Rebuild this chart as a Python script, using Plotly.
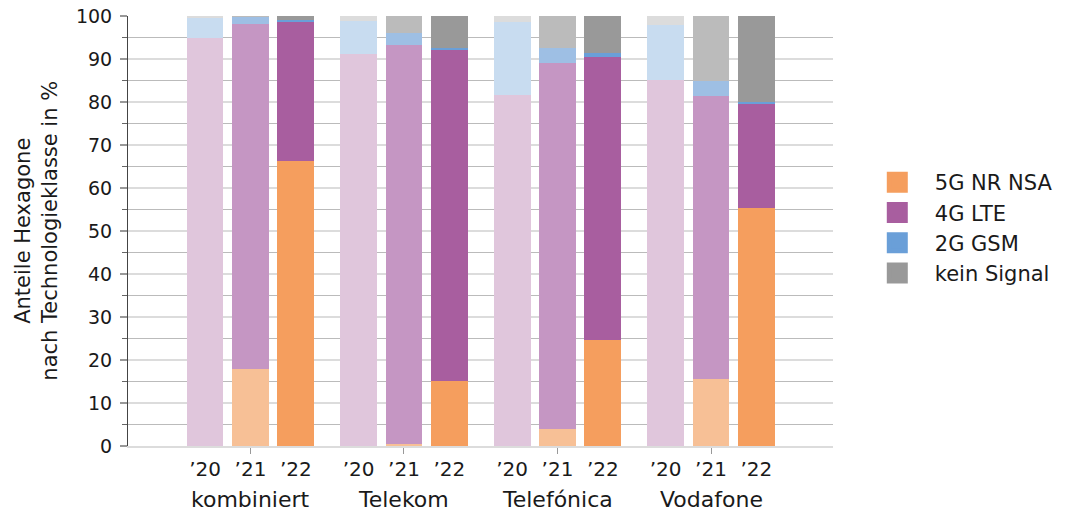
import plotly.graph_objects as go

groups = ["kombiniert", "Telekom", "Telefónica", "Vodafone"]
years = ["’20", "’21", "’22"]
series = ["5G NR NSA", "4G LTE", "2G GSM", "kein Signal"]

# values per group: ['20, '21, '22]
g5 = [[0, 17.9, 66.3], [0, 0.5, 15.2], [0, 4.0, 24.7], [0, 15.5, 55.3]]
g4 = [[94.8, 80.2, 32.4], [91.2, 92.8, 77.0], [81.7, 85.0, 65.7], [85.1, 65.9, 24.3]]
g2 = [[4.9, 1.8, 0.4], [7.6, 2.7, 0.4], [16.8, 3.6, 0.9], [12.7, 3.6, 0.4]]
none = [[0.3, 0.1, 0.9], [1.2, 4.0, 7.4], [1.5, 7.4, 8.7], [2.2, 15.0, 20.0]]
values = [g5, g4, g2, none]

# colours per series: ['20, '21, '22]
colors = [
    ["#FAD9C0", "#F7C096", "#F59E5E"],
    ["#E0C6DC", "#C596C3", "#A85E9F"],
    ["#C8DCF0", "#9EBFE4", "#6A9FD8"],
    ["#DCDCDC", "#BBBBBB", "#999999"],
]

GROUP_STEP = 3.385
BAR_W = 0.81
FONT = "DejaVu Sans"

pos, ticktext, centers = [], [], []
for gi in range(len(groups)):
    for yi in range(len(years)):
        pos.append(gi * GROUP_STEP + yi)
        ticktext.append(years[yi])
    centers.append(gi * GROUP_STEP + 1)

fig = go.Figure()
for si, name in enumerate(series):
    yvals, cols = [], []
    for gi in range(len(groups)):
        for yi in range(len(years)):
            yvals.append(values[si][gi][yi])
            cols.append(colors[si][yi])
    fig.add_trace(go.Bar(x=pos, y=yvals, width=BAR_W, marker=dict(color=cols, line=dict(width=0)),
                         name=name, showlegend=False))

for si, name in enumerate(series):
    fig.add_trace(go.Scatter(x=[None], y=[None], mode="markers", name=name, legendgroup=name,
                             marker=dict(symbol="square", size=16, color=colors[si][2],
                                         line=dict(width=5, color=colors[si][2]))))

fig.update_layout(
    width=1069, height=515,
    margin=dict(l=128, r=236, t=16, b=69, autoexpand=False),
    barmode="stack", bargap=0,
    plot_bgcolor="white", paper_bgcolor="white",
    font=dict(family=FONT, size=19, color="#1a1a1a"),
    legend=dict(x=1.038, xanchor="left", y=0.507, yanchor="middle", traceorder="normal",
                font=dict(size=21), itemsizing="trace", tracegroupgap=2, itemwidth=65),
    xaxis=dict(range=[-1.7, 3 * GROUP_STEP + 2 + 1.69], tickmode="array", tickvals=pos, ticktext=ticktext,
               ticks="", showgrid=False, zeroline=False, showline=True, linecolor="#DCDCDC", linewidth=2,
               tickfont=dict(size=20), automargin=False, ticklabelstandoff=4,
               minor=dict(tickmode="array", tickvals=centers, ticks="outside", ticklen=6, tickcolor="#999999",
                          tickwidth=1, showgrid=False)),
    yaxis=dict(range=[0, 100], dtick=10, showgrid=True, gridcolor="#DCDCDC", gridwidth=2,
               zeroline=False, showline=True, linecolor="#444444", linewidth=1, automargin=False,
               ticks="outside", ticklen=7, tickcolor="#999999", tickwidth=2, tickfont=dict(size=19),
               ticklabelstandoff=4,
               minor=dict(dtick=5, showgrid=True, gridcolor="#BBBBBB", gridwidth=1, ticks="outside",
                          ticklen=5, tickcolor="#666666", tickwidth=1)),
)

for gi, g in enumerate(groups):
    fig.add_annotation(x=centers[gi], xref="x", y=-0.125, yref="paper", yanchor="middle", text=g,
                       showarrow=False, font=dict(size=22))

fig.add_annotation(x=-0.131, xref="paper", y=0.5, yref="paper", xanchor="center", yanchor="middle",
                   text="Anteile Hexagone<br>nach Technologieklasse in %", textangle=-90,
                   showarrow=False, font=dict(size=21))

fig.write_html("out.html", config={"displayModeBar": False},
               post_script="document.body.style.margin='0';")
